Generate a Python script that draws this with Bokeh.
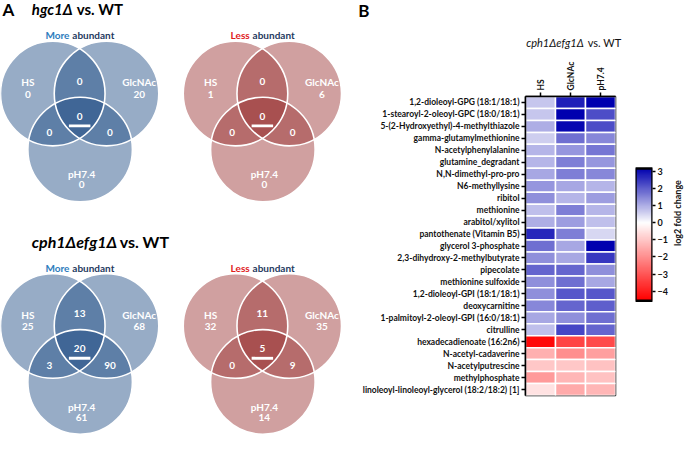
import numpy as np
from bokeh.plotting import figure
from bokeh.layouts import row, column
from bokeh.models import Range1d, FactorRange, LinearColorMapper, FixedTicker, ColumnDataSource
from bokeh.transform import transform
from bokeh.core.properties import value
from bokeh.embed import file_html
from bokeh.resources import INLINE

FONT = "Lato"

# ---------------- data ----------------
venn_sets = ["HS", "GlcNAc", "pH7.4"]
# region order: HS only, GlcNAc only, pH7.4 only, HS&GlcNAc, HS&pH7.4, GlcNAc&pH7.4, all three
hgc1_more = [0, 20, 0, 0, 0, 0, 0]
hgc1_less = [1, 6, 0, 0, 0, 0, 0]
cph_more = [25, 68, 61, 13, 3, 90, 20]
cph_less = [32, 35, 14, 11, 0, 9, 5]

heat_cols = ["HS", "GlcNAc", "pH7.4"]
heat_rows = [
    "1,2-dioleoyl-GPG (18:1/18:1)",
    "1-stearoyl-2-oleoyl-GPC (18:0/18:1)",
    "5-(2-Hydroxyethyl)-4-methylthiazole",
    "gamma-glutamylmethionine",
    "N-acetylphenylalanine",
    "glutamine_degradant",
    "N,N-dimethyl-pro-pro",
    "N6-methyllysine",
    "ribitol",
    "methionine",
    "arabitol/xylitol",
    "pantothenate (Vitamin B5)",
    "glycerol 3-phosphate",
    "2,3-dihydroxy-2-methylbutyrate",
    "pipecolate",
    "methionine sulfoxide",
    "1,2-dioleoyl-GPI (18:1/18:1)",
    "deoxycarnitine",
    "1-palmitoyl-2-oleoyl-GPI (16:0/18:1)",
    "citrulline",
    "hexadecadienoate (16:2n6)",
    "N-acetyl-cadaverine",
    "N-acetylputrescine",
    "methylphosphate",
    "linoleoyl-linoleoyl-glycerol (18:2/18:2) [1]",
]
hs_vals = [0.7, 0.7, 1.0, 0.6, 0.9, 0.9, 1.1, 1.3, 1.4, 0.8, 1.0, 2.7, 1.8,
           1.4, 1.9, 1.4, 1.4, 1.5, 1.1, 0.8, -4.4, -1.4, -1.0, -1.8, -0.5]
glc_vals = [2.8, 3.2, 3.1, 1.8, 1.3, 1.6, 1.6, 1.1, 0.9, 1.6, 1.2, 1.6, 1.1,
            1.1, 1.9, 1.8, 2.1, 1.9, 1.4, 2.3, -3.3, -2.0, -1.0, -1.3, -1.5]
ph_vals = [3.2, 2.2, 2.2, 1.5, 1.7, 1.3, 1.5, 0.9, 1.2, 0.9, 0.8, 0.5, 3.2,
           2.5, 1.4, 1.1, 2.1, 2.0, 1.8, 1.9, -3.2, -1.7, -1.1, -1.1, -1.3]
cbar_ticks = [-4, -3, -2, -1, 0, 1, 2, 3]
cbar_low, cbar_high = -4.56, 3.2

# ---------------- colour map ----------------
def make_palette(n=256):
    pal = []
    for v in np.linspace(cbar_low, cbar_high, n):
        if v < 0:
            t = v / cbar_low
            c = (255, int(255 * (1 - t)), int(255 * (1 - t)))
        else:
            t = v / cbar_high
            c = (int(255 * (1 - t)), int(255 * (1 - t)), int(255 - (255 - 175) * t))
        pal.append("#%02x%02x%02x" % c)
    return pal

mapper = LinearColorMapper(palette=make_palette(), low=cbar_low, high=cbar_high)

# ---------------- panel A (Venn diagrams) ----------------
pa = figure(width=342, height=434, x_range=Range1d(0, 350), y_range=Range1d(450, 0),
            x_axis_type=None, y_axis_type=None, output_backend="svg",
            toolbar_location=None, min_border=0)
pa.grid.visible = False
pa.outline_line_color = None

CIRC = [(53.5, 96.5), (108.5, 96.5), (81.5, 154.5)]
R = 53.5
LABEL_POS = [(28, 85), (142, 85), (83, 180)]
COUNT_POS = [(28, 97), (142, 97), (83, 191), (81, 84), (50, 137), (112, 137), (81, 120)]


def txt(p, x, y, t, size, color, align="center", style="bold"):
    p.text(x=x, y=y, text=t, text_align=align, text_baseline="middle",
           text_font=value(FONT), text_font_style=style,
           text_font_size=size, text_color=color)


def venn(ox, oy, counts, color, word, word_color, split):
    cx = [ox + c[0] for c in CIRC]
    cy = [oy + c[1] for c in CIRC]
    pa.circle(x=cx, y=cy, radius=R, fill_color=color, fill_alpha=0.46, line_color=None)
    pa.circle(x=cx, y=cy, radius=R, fill_color=None, line_color="white", line_width=1.6)
    txt(pa, [ox + p[0] for p in LABEL_POS], [oy + p[1] for p in LABEL_POS],
        venn_sets, "10px", "white")
    txt(pa, [ox + p[0] for p in COUNT_POS], [oy + p[1] for p in COUNT_POS],
        [str(c) for c in counts], "10px", "white")
    pa.rect(x=ox + 81, y=oy + 130, width=22, height=3, fill_color="white", line_color=None)
    txt(pa, [ox + split - 1.5], [oy + 36], [word], "10px", word_color, align="right")
    txt(pa, [ox + split + 1.5], [oy + 36], ["abundant"], "10px", "#1f3a5f", align="left")


venn(0, 0, hgc1_more, "#1d4b83", "More", "#2e7dbd", 72)
venn(187, 0, hgc1_less, "#993131", "Less", "#e0201c", 69.5)
venn(0, 241, cph_more, "#1d4b83", "More", "#2e7dbd", 72)
venn(187, 241, cph_less, "#993131", "Less", "#e0201c", 69.5)

txt(pa, [2], [9], ["A"], "17px", "black", align="left")
txt(pa, [32], [9], ["hgc1Δ"], "15px", "black", align="left", style="bold italic")
txt(pa, [78], [9], ["vs. WT"], "15px", "black", align="left")
txt(pa, [32], [250], ["cph1Δefg1Δ"], "16px", "black", align="left", style="bold italic")
txt(pa, [122], [250], ["vs. WT"], "16px", "black", align="left")

# ---------------- panel B title strip ----------------
pt = figure(width=338, height=58, x_range=Range1d(350, 696), y_range=Range1d(60, 0),
            x_axis_type=None, y_axis_type=None, output_backend="svg",
            toolbar_location=None, min_border=0)
pt.grid.visible = False
pt.outline_line_color = None
txt(pt, [366], [10], ["B"], "17px", "black", align="left")
txt(pt, [538], [43], ["cph1Δefg1Δ"], "11px", "#111111", align="left", style="italic")
txt(pt, [601], [43], ["vs. WT"], "11px", "#111111", align="left", style="normal")

# ---------------- heatmap ----------------
src = ColumnDataSource(dict(
    row=heat_rows * 3,
    col=[heat_cols[0]] * len(heat_rows) + [heat_cols[1]] * len(heat_rows) + [heat_cols[2]] * len(heat_rows),
    val=hs_vals + glc_vals + ph_vals,
))

BT, BB = 37, 39
pb = figure(width=280, height=376, x_range=FactorRange(*heat_cols),
            y_range=FactorRange(*reversed(heat_rows)), x_axis_location="above",
            output_backend="svg", toolbar_location=None,
            min_border_left=183, min_border_right=7, min_border_top=BT, min_border_bottom=BB)
pb.rect(x="col", y="row", width=1, height=1, source=src,
        fill_color=transform("val", mapper), line_color="white", line_width=1.5)
pb.grid.visible = False
pb.outline_line_color = "black"
pb.outline_line_width = 1.5
for ax in pb.axis:
    ax.axis_line_color = "black"
    ax.axis_line_width = 1.5
    ax.major_tick_line_width = 1.5
    ax.major_tick_out = 4
    ax.major_tick_in = 0
    ax.minor_tick_line_color = None
    ax.major_label_text_font = FONT
    ax.major_label_text_font_style = "bold"
    ax.major_label_text_color = "#111111"
    ax.major_label_standoff = 2
pb.yaxis.major_label_text_font_size = "8.5px"
pb.xaxis.major_label_text_font_size = "8.5px"
pb.xaxis.major_label_orientation = np.pi / 2

# ---------------- colour bar ----------------
# frame spans the same height as the heatmap; the bar occupies [cbar_low, cbar_high]
# reference: bar 138 px tall for 7.76 units, frame extends 75 px above / 99 px below
ppu = 138 / (cbar_high - cbar_low)
pc = figure(frame_width=17, height=376, x_range=Range1d(0, 1),
            y_range=Range1d(cbar_low - 99 / ppu, cbar_high + 75 / ppu),
            x_axis_type=None, y_axis_location="right", output_backend="svg",
            toolbar_location=None, min_border_left=13, min_border_right=0,
            min_border_top=BT, min_border_bottom=BB)
grad = np.linspace(cbar_low, cbar_high, 256).reshape(-1, 1)
pc.image(image=[grad], x=0, y=cbar_low, dw=1, dh=cbar_high - cbar_low, color_mapper=mapper)
pc.rect(x=[0.5], y=[(cbar_low + cbar_high) / 2], width=1, height=cbar_high - cbar_low,
        fill_color=None, line_color="black", line_width=2.5)
pc.grid.visible = False
pc.outline_line_color = None
ya = pc.yaxis[0]
ya.ticker = FixedTicker(ticks=cbar_ticks)
ya.bounds = (cbar_low, cbar_high)
ya.axis_line_color = None
ya.major_tick_out = 3
ya.major_tick_in = 0
ya.major_tick_line_width = 1.5
ya.minor_tick_line_color = None
ya.major_label_text_font = FONT
ya.major_label_text_font_style = "bold"
ya.major_label_text_font_size = "9px"
ya.major_label_text_color = "#111111"
ya.major_label_standoff = 2
ya.axis_label = "log2 fold change"
ya.axis_label_text_font = FONT
ya.axis_label_text_font_style = "bold"
ya.axis_label_text_font_size = "9px"
ya.axis_label_text_color = "#111111"
ya.axis_label_standoff = 7
ya.axis_label_orientation = np.pi / 2

layout = row(pa, column(pt, row(pb, pc)))
open("out.html", "w").write(file_html(layout, INLINE))
